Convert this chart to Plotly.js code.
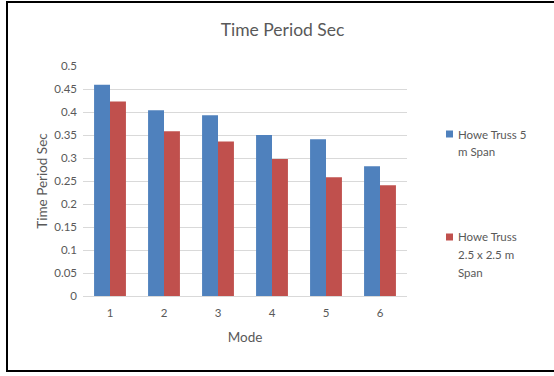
<!DOCTYPE html>
<html><head><meta charset="utf-8">
<script src="https://cdn.plot.ly/plotly-3.0.1.min.js"></script>
<style>
html,body{margin:0;padding:0;background:#fff;width:554px;height:376px;overflow:hidden;}
#frame{position:absolute;left:6px;top:1px;width:560px;height:371px;border:2px solid #000;box-sizing:border-box;}
#chart{position:absolute;left:0;top:0;width:554px;height:376px;}
</style></head>
<body>
<div id="frame"></div>
<div id="chart"></div>
<script>
const modes = ['1','2','3','4','5','6'];
const seriesNames = ['Howe Truss 5 m Span', 'Howe Truss 2.5 x 2.5 m Span'];
const legendLines = [['Howe Truss 5','m Span'], ['Howe Truss','2.5 x 2.5 m','Span']];
const seriesColors = ['#4F81BD', '#C0504D'];
const span5 = [0.459, 0.404, 0.393, 0.350, 0.341, 0.282];
const span25 = [0.423, 0.358, 0.336, 0.298, 0.258, 0.241];
const yTicks = [0,0.05,0.1,0.15,0.2,0.25,0.3,0.35,0.4,0.45,0.5];
const yTickText = ['0','0.05','0.1','0.15','0.2','0.25','0.3','0.35','0.4','0.45','0.5'];

const W = 554, H = 376, M = {l:83, r:147, t:66, b:80};
const pw = W - M.l - M.r, ph = H - M.t - M.b;
const px = x => (x - M.l) / pw;
const py = y => (H - M.b - y) / ph;

const font = 'Lato, "Noto Sans", sans-serif';
const traces = [
  {type:'bar', x:modes, y:span5, name:seriesNames[0], marker:{color:seriesColors[0]}},
  {type:'bar', x:modes, y:span25, name:seriesNames[1], marker:{color:seriesColors[1]}}
];

// legend drawn as text lines + swatches
const legendTop = [134, 237];
const lineGap = 17.5;
const annotations = [], shapes = [];
legendLines.forEach((lines, i) => {
  shapes.push({type:'rect', xref:'paper', yref:'paper', x0:px(446), x1:px(453), y0:py(legendTop[i]-3.5), y1:py(legendTop[i]+3.5),
               fillcolor:seriesColors[i], line:{width:0}});
  lines.forEach((t, j) => {
    annotations.push({xref:'paper', yref:'paper', x:px(456), y:py(legendTop[i] + j*lineGap), xanchor:'left', yanchor:'middle',
                      text:t, showarrow:false, font:{size:11.5, color:'#595959'}});
  });
});

const layout = {
  width:W, height:H,
  paper_bgcolor:'rgba(0,0,0,0)', plot_bgcolor:'rgba(0,0,0,0)',
  margin:M,
  font:{family:font, color:'#595959', size:11},
  title:{text:'Time Period Sec', font:{family:font, size:17.5, color:'#595959'}, x:0.51, xanchor:'center', y:0.92, yanchor:'middle'},
  barmode:'group', bargap:0.41, bargroupgap:0,
  xaxis:{type:'category', tickfont:{size:11.5}, ticks:'', showline:true, linecolor:'#d9d9d9', linewidth:1, ticklabelstandoff:6,
         title:{text:'Mode', font:{size:13.5}, standoff:14}},
  yaxis:{range:[0,0.5], tickvals:yTicks, ticktext:yTickText, tickfont:{size:11.5}, gridcolor:'#d9d9d9', gridwidth:1,
         zeroline:false, ticks:'', ticklen:0, ticklabelstandoff:5,
         title:{text:'Time Period Sec', font:{size:13.5}, standoff:3}},
  showlegend:false,
  annotations, shapes
};
Plotly.newPlot('chart', traces, layout, {displayModeBar:false, staticPlot:true});
</script>
</body></html>
